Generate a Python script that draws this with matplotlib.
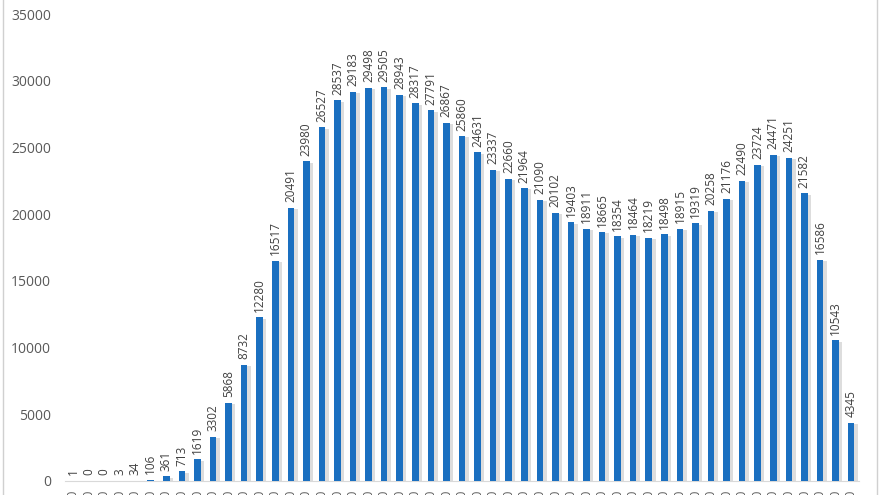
import matplotlib
matplotlib.use('Agg')
import matplotlib.pyplot as plt
import matplotlib.patheffects as pe
from matplotlib.patches import Rectangle
import numpy as np

values = [1, 0, 0, 3, 34, 106, 361, 713, 1619, 3302, 5868, 8732, 12280, 16517,
          20491, 23980, 26527, 28537, 29183, 29498, 29505, 28943, 28317, 27791,
          26867, 25860, 24631, 23337, 22660, 21964, 21090, 20102, 19403, 18911,
          18665, 18354, 18464, 18219, 18498, 18915, 19319, 20258, 21176, 22490,
          23724, 24471, 24251, 21582, 16586, 10543, 4345]
# category labels are cut off at the bottom edge in the reference
x_labels = ['00.0'] * len(values)
y_ticks = [0, 5000, 10000, 15000, 20000, 25000, 30000, 35000]

plt.rcParams['font.family'] = 'sans-serif'
plt.rcParams['font.sans-serif'] = ['Open Sans', 'DejaVu Sans']

fig = plt.figure(figsize=(8.8, 4.95), dpi=100)
ax = fig.add_axes([0.074, 0.0283, 0.902, 0.943])

x = np.arange(len(values))
bars = ax.bar(x, values, width=0.42, color='#1a6fc0', zorder=3)
for b in bars:
    b.set_path_effects([pe.SimplePatchShadow(offset=(2.5, -1), shadow_rgbFace='#909090', alpha=0.3),
                        pe.Normal()])

for xi, v in zip(x, values):
    ax.annotate(str(v), (xi, v), xytext=(0, 4), textcoords='offset points',
                rotation=90, ha='center', va='bottom', fontsize=8.5, color='#404040')

ax.set_xlim(-0.5, len(values) - 0.5)
ax.set_ylim(0, 35000)
ax.set_yticks(y_ticks)
ax.set_yticklabels([str(t) for t in y_ticks], fontsize=10, color='#595959')
ax.set_xticks(x)
ax.set_xticklabels(x_labels, rotation=90, fontsize=8.5, color='#595959', va='top')
ax.tick_params(axis='both', length=0)
ax.tick_params(axis='x', pad=6)
ax.tick_params(axis='y', pad=10)
for s in ['top', 'right', 'left']:
    ax.spines[s].set_visible(False)
ax.spines['bottom'].set_color('#d9d9d9')
ax.spines['bottom'].set_linewidth(0.8)

fig.patches.append(Rectangle((3 / 880, -0.1), 874 / 880, 1.2, transform=fig.transFigure,
                             fill=False, edgecolor='#d0d0d0', linewidth=1))

fig.savefig('out.png', dpi=100)
